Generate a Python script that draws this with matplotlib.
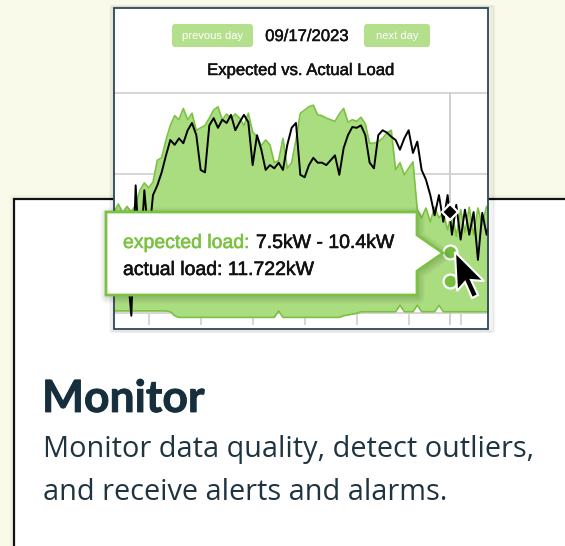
import matplotlib
matplotlib.use("Agg")
from matplotlib import pyplot as plt
import matplotlib.patches as mpatches
import matplotlib.patheffects as pe
import numpy as np

# 15-minute samples, hours of the day
hours = np.arange(88) * 0.25 + 1.0

expected_hi = [15.3, 16.3, 15.2, 16.0, 15.3, 16.2, 18.0, 18.9, 18.3, 19.0,
               21.7, 22.0, 24.2, 26.0, 27.2, 26.7, 28.1, 26.7, 27.5, 25.4,
               25.7, 26.0, 26.9, 27.9, 28.3, 26.7, 27.4, 26.9, 27.4, 26.9,
               26.0, 27.5, 25.2, 24.6, 23.5, 24.2, 23.6, 21.4, 21.7, 24.4,
               20.7, 21.4, 24.2, 27.5, 27.9, 28.3, 28.5, 27.3, 27.2, 26.9,
               26.7, 26.5, 27.4, 28.1, 26.4, 26.7, 26.5, 27.0, 26.2, 23.8,
               23.8, 24.0, 24.4, 25.1, 25.4, 20.5, 21.4, 19.9, 20.7, 21.5,
               15.6, 14.6, 15.8, 14.1, 15.9, 14.6, 15.2, 13.1, 15.3, 12.3,
               15.6, 12.8, 15.9, 12.5, 15.8, 13.7, 16.0, 14.9]

expected_lo = [3.1] * 13 + [3.0, 2.5] + [2.3] * 23 + [3.1] + [2.3] * 14 + \
              [2.5, 2.6, 2.7, 2.8] + [3.0] * 9 + [3.8, 3.0, 3.0, 3.0, 3.8] + \
              [3.0] * 4 + [3.8] + [3.0] * 12

actual = [9.4, 9.1, 9.6, 8.8, 2.5, 18.6, 8.8, 18.0, 11.9, 17.4,
          18.6, 20.2, 22.3, 24.2, 23.6, 24.4, 23.8, 25.4, 26.3, 24.8,
          20.5, 20.2, 26.0, 26.9, 25.7, 26.7, 26.3, 27.3, 25.4, 26.4,
          27.3, 26.4, 21.1, 24.8, 23.0, 20.5, 21.1, 20.7, 21.4, 20.5,
          23.6, 25.7, 26.3, 19.9, 19.6, 21.1, 22.0, 21.4, 21.4, 21.1,
          21.7, 22.3, 19.9, 23.2, 24.8, 25.8, 25.7, 26.0, 24.8, 21.4,
          20.7, 24.8, 25.4, 25.1, 24.6, 24.2, 23.0, 24.4, 25.4, 22.6,
          24.0, 20.5, 19.3, 17.4, 14.9, 17.4, 14.1, 17.4, 12.5, 16.2,
          11.9, 15.6, 12.5, 15.3, 9.4, 15.2, 12.5, 14.9]

tick_hours = [3, 6, 9, 12, 15, 18, 21]
grid_kw = [20, 30]

hover_hour = 20.38
hover_expected = [10.4, 6.8]
hover_actual = 15.3

green = '#7cc242'
fill_green = '#aadc80'
btn_green = '#b4e08d'
navy = '#172e3c'
body = '#1f3441'


def thick(color, w=0.45):
    return [pe.withStroke(linewidth=w, foreground=color)]


fig = plt.figure(figsize=(5.65, 5.46), dpi=100)
fig.patch.set_facecolor('#f9faea')

# background layer in pixel units
bg = fig.add_axes([0, 0, 1, 1])
bg.set_xlim(0, 565)
bg.set_ylim(546, 0)
bg.axis('off')

# card with faint shadow
for k in range(1, 5):
    bg.add_patch(mpatches.Rectangle((14 - k, 199 - k), 600, 400, fc='none',
                                    ec='black', lw=1, alpha=0.025))
bg.add_patch(mpatches.Rectangle((14, 199), 600, 400, fc='white', ec='#111111', lw=1.6))

bg.text(42, 412, "Monitor", fontsize=32, fontweight='bold', family='Lato',
        color=navy, va='baseline', path_effects=thick(navy, 0.6))
bg.text(43, 457, "Monitor data quality, detect outliers,", fontsize=20.8,
        family='Open Sans', color=body, va='baseline')
bg.text(43, 500, "and receive alerts and alarms.", fontsize=20.8,
        family='Open Sans', color=body, va='baseline')

# chart box shadow + white panel
for k in range(1, 8):
    bg.add_patch(mpatches.Rectangle((114 - k * 0.6, 8 - k * 0.4), 374 + k * 1.5, 321 + k * 0.8,
                                    fc='none', ec='black', lw=1, alpha=0.03))
bg.add_patch(mpatches.Rectangle((114, 8), 374, 321, fc='white', ec='none'))

bg.add_patch(mpatches.FancyBboxPatch((172, 24), 81, 23,
             boxstyle='round,pad=0,rounding_size=3', fc=btn_green, ec='none'))
bg.add_patch(mpatches.FancyBboxPatch((364, 24), 66, 23,
             boxstyle='round,pad=0,rounding_size=3', fc=btn_green, ec='none'))
bg.text(212.5, 36, "prevous day", fontsize=8, color='white', family='Liberation Sans',
        ha='center', va='center')
bg.text(397, 36, "next day", fontsize=8, color='white', family='Liberation Sans',
        ha='center', va='center')
bg.text(307, 36.5, "09/17/2023", fontsize=12, color='#111111', family='Liberation Sans',
        ha='center', va='center', path_effects=thick('#111111', 0.35))
bg.text(301, 70.5, "Expected vs. Actual Load", fontsize=12, color='#111111',
        family='Liberation Sans', ha='center', va='center',
        path_effects=thick('#111111', 0.35))

# chart
ax = fig.add_axes([114 / 565, (546 - 325) / 546, 374 / 565, 232 / 546])
ax.patch.set_alpha(0)
for s in ax.spines.values():
    s.set_visible(False)
ax.set_xticks([])
ax.set_yticks([])
ax.set_xlim(1.0, 22.58)
ax.set_ylim(1.36, 30)

for g in grid_kw:
    ax.axhline(g, color='#d2d2d2', lw=1.3, zorder=0, clip_on=False)
ax.axhline(2.84, color='#d2d2d2', lw=1.3, zorder=0)
ax.vlines(tick_hours, 1.36, 2.84, color='#d2d2d2', lw=1.3, zorder=0)
ax.vlines([hover_hour], 1.36, 30, color='#cccccc', lw=1.3, zorder=0)

ax.fill_between(hours, expected_lo, expected_hi, color=fill_green, lw=0, zorder=1)
ax.plot(hours, expected_hi, color=green, lw=1.2, zorder=2)
ax.plot(hours, expected_lo, color=green, lw=1.2, zorder=2)
ax.plot(hours, actual, color='black', lw=1.4, zorder=3)

ax.plot([hover_hour] * 2, hover_expected, 'o', ms=10, mfc='#76be40', mec='white',
        mew=1.6, zorder=5, clip_on=False)
ax.plot([hover_hour], [hover_actual], 'D', ms=8, mfc='black', mec='white',
        mew=1.6, zorder=5, clip_on=False)

# overlay: frame, tooltip, cursor
ov = fig.add_axes([0, 0, 1, 1])
ov.set_xlim(0, 565)
ov.set_ylim(546, 0)
ov.axis('off')
ov.patch.set_alpha(0)

ov.add_patch(mpatches.Rectangle((114, 8), 374, 321, fill=False, ec='#2f4656', lw=1.3))

tip = [(106, 212), (417, 212), (417, 235), (443, 253), (417, 271), (417, 295), (106, 295)]
for k in range(1, 7):
    ov.add_patch(mpatches.Polygon([(x + 1, y + 2) for x, y in tip], closed=True,
                                  fc='none', ec='black', lw=k * 1.6, alpha=0.025,
                                  joinstyle='round'))
ov.add_patch(mpatches.Polygon(tip, closed=True, fc='white', ec=green, lw=2))

t1 = ov.text(123, 248, "expected load:", fontsize=14, color=green,
             family='Liberation Sans', va='baseline', path_effects=thick(green, 0.4))
ov.annotate("7.5kW - 10.4kW", xy=(1, 0), xycoords=t1, xytext=(4, 0),
            textcoords='offset points', fontsize=14, color='#111111',
            family='Liberation Sans', va='bottom', path_effects=thick('#111111', 0.4))
ov.text(123, 275, "actual load: 11.722kW", fontsize=14, color='#111111',
        family='Liberation Sans', va='baseline', path_effects=thick('#111111', 0.4))

cursor = [(455, 252), (457, 291), (465, 282), (472, 298), (478, 295), (471, 280), (484, 281)]
ov.add_patch(mpatches.Polygon(cursor, closed=True, fc='black', ec='white', lw=1.5,
                              joinstyle='miter'))

fig.savefig('out.png', dpi=100, facecolor=fig.get_facecolor())
